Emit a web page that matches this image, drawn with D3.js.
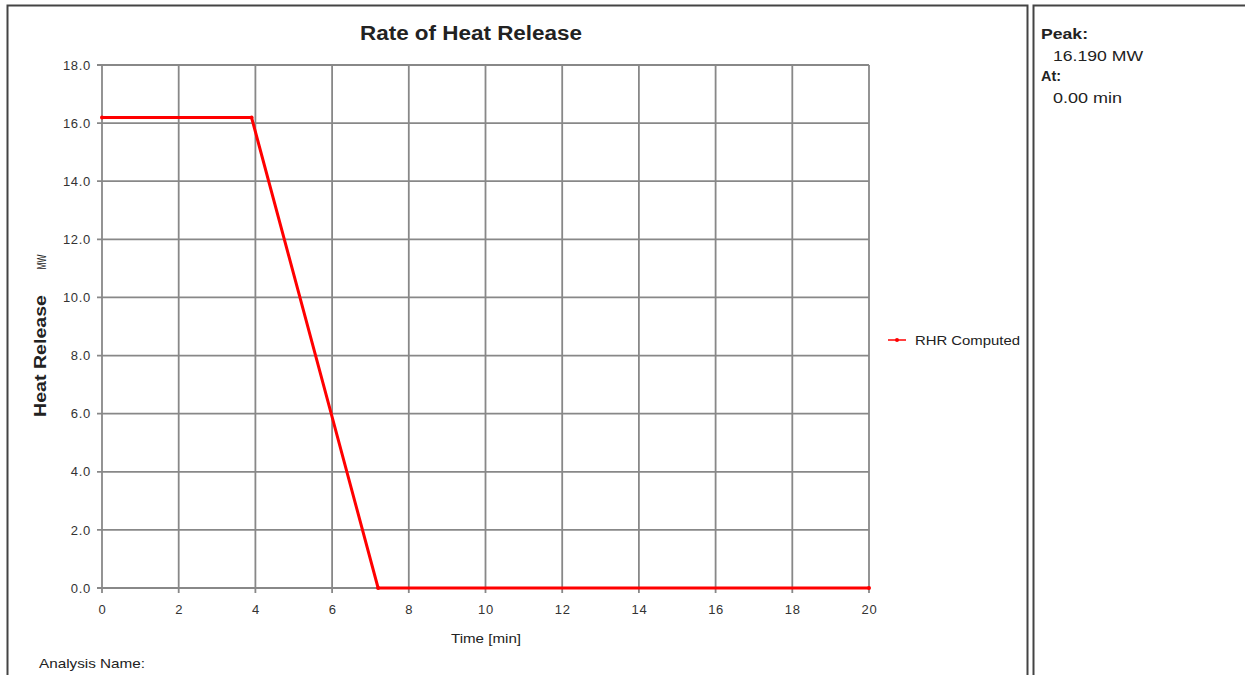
<!DOCTYPE html>
<html>
<head>
<meta charset="utf-8">
<script src="https://cdn.jsdelivr.net/npm/d3@7"></script>
<style>
	body { margin: 0; background: #fff; }
	text { font-family: Arial, "Liberation Sans", sans-serif; }
</style>
</head>
<body>
<script>
/* Chart data. */
const timeMin = [0, 3.9, 7.2, 20];
const rhrMW = [16.19, 16.19, 0, 0];
const xTicks = [0, 2, 4, 6, 8, 10, 12, 14, 16, 18, 20];
const yTicks = [0, 2, 4, 6, 8, 10, 12, 14, 16, 18];
const seriesName = 'RHR Computed';
const peakValue = '16.190 MW';
const peakTime = '0.00 min';

/**
 * Adds a stretched text label (the reference text is wider than plain Arial).
 */
function addLabel(svg, str, x, y, size, bold, width, anchor) {
	return svg.append('text')
		.attr('x', x).attr('y', y)
		.attr('text-anchor', anchor || 'start')
		.attr('font-size', size)
		.attr('font-weight', bold ? 'bold' : 'normal')
		.attr('fill', '#222')
		.attr('textLength', width)
		.attr('lengthAdjust', 'spacingAndGlyphs')
		.text(str);
}

/**
 * Draws the whole chart.
 */
function main() {
	const svg = d3.select('body').append('svg')
		.attr('width', 1245)
		.attr('height', 675);

	/* Panel borders. */
	svg.append('path')
		.attr('d', 'M7.5,675 V5.5 H1027.5 V675')
		.attr('fill', 'none').attr('stroke', '#444').attr('stroke-width', 2);
	svg.append('path')
		.attr('d', 'M1033.5,675 V5.5 H1245')
		.attr('fill', 'none').attr('stroke', '#444').attr('stroke-width', 2);

	const xScale = d3.scaleLinear().domain([0, 20]).range([102, 869]);
	const yScale = d3.scaleLinear().domain([0, 18]).range([588, 65]);

	/* Grid lines. */
	const grid = svg.append('g').attr('stroke', '#888').attr('stroke-width', 1.8);
	grid.selectAll('.vgrid')
			.data(xTicks)
		.enter().append('line')
			.attr('x1', function(d) { return xScale(d); })
			.attr('x2', function(d) { return xScale(d); })
			.attr('y1', yScale(18))
			.attr('y2', yScale(0) + 5);
	grid.selectAll('.hgrid')
			.data(yTicks)
		.enter().append('line')
			.attr('y1', function(d) { return yScale(d); })
			.attr('y2', function(d) { return yScale(d); })
			.attr('x1', xScale(0) - 5)
			.attr('x2', xScale(20));

	/* Axes, labels only. */
	let xAxis = svg.append('g')
		.attr('transform', 'translate(0,' + (yScale(0) + 5) + ')')
		.call(d3.axisBottom(xScale).tickValues(xTicks).tickSize(0).tickPadding(12));
	let yAxis = svg.append('g')
		.attr('transform', 'translate(' + (xScale(0) - 5) + ',0)')
		.call(d3.axisLeft(yScale).tickValues(yTicks).tickSize(0).tickPadding(6)
			.tickFormat(d3.format('.1f')));
	for (let axis of [xAxis, yAxis]) {
		axis.select('.domain').remove();
		axis.selectAll('text')
			.attr('font-size', 13)
			.attr('letter-spacing', 0.7)
			.attr('font-family', 'Arial, "Liberation Sans", sans-serif')
			.attr('fill', '#333');
	}

	/* Series line. */
	let points = timeMin.map(function(t, i) { return [t, rhrMW[i]]; });
	let line = d3.line()
		.x(function(d) { return xScale(d[0]); })
		.y(function(d) { return yScale(d[1]); });
	svg.append('path')
		.datum(points)
		.attr('d', line)
		.attr('fill', 'none')
		.attr('stroke', '#ff0000')
		.attr('stroke-width', 3)
		.attr('stroke-linejoin', 'round');
	svg.selectAll('.marker')
			.data(points)
		.enter().append('circle')
			.attr('cx', function(d) { return xScale(d[0]); })
			.attr('cy', function(d) { return yScale(d[1]); })
			.attr('r', 2)
			.attr('fill', '#ff0000');

	/* Titles. */
	addLabel(svg, 'Rate of Heat Release', 471, 40, 20, true, 222, 'middle');
	addLabel(svg, 'Time [min]', 486, 643, 13, false, 70, 'middle');
	addLabel(svg, 'Heat Release', 0, 0, 16, true, 122, 'middle')
		.attr('x', null).attr('y', null)
		.attr('transform', 'translate(46,356) rotate(-90)');
	addLabel(svg, 'MW', 0, 0, 12, false, 15, 'middle')
		.attr('x', null).attr('y', null)
		.attr('transform', 'translate(46,262) rotate(-90)');
	addLabel(svg, 'Analysis Name:', 39, 668, 13, false, 106);

	/* Legend. */
	svg.append('line')
		.attr('x1', 888).attr('x2', 906).attr('y1', 340).attr('y2', 340)
		.attr('stroke', '#ff0000').attr('stroke-width', 1.5);
	svg.append('circle')
		.attr('cx', 897).attr('cy', 340).attr('r', 2).attr('fill', '#ff0000');
	addLabel(svg, seriesName, 915, 345, 13, false, 105);

	/* Side panel. */
	addLabel(svg, 'Peak:', 1041, 39, 15, true, 47);
	addLabel(svg, peakValue, 1053, 61, 15, false, 90);
	addLabel(svg, 'At:', 1041, 81, 15, true, 20);
	addLabel(svg, peakTime, 1053, 103, 15, false, 69);
}

window.onload = function() {
	main();
};
</script>
</body>
</html>
